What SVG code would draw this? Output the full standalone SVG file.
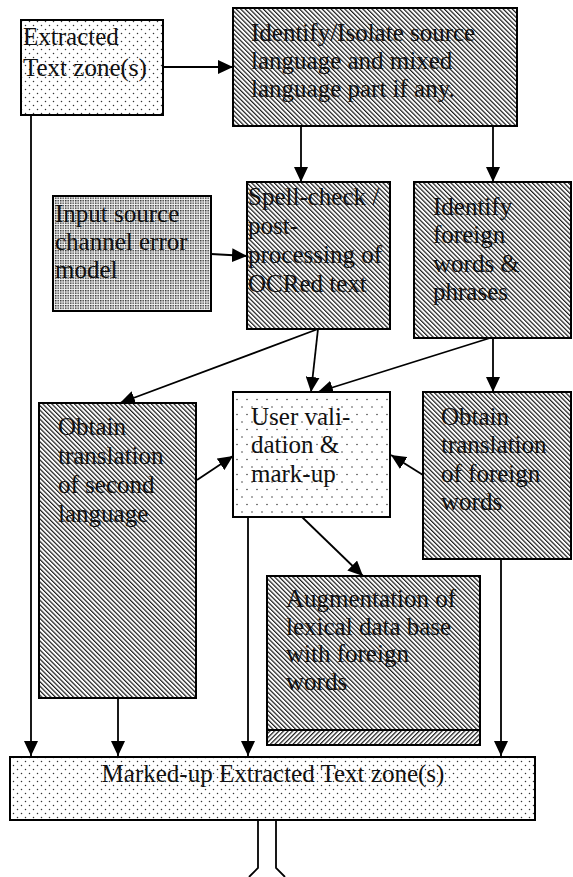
<svg xmlns="http://www.w3.org/2000/svg" width="573" height="877" viewBox="0 0 573 877">
<style>
  .box{stroke:#000;stroke-width:2}
  .t{font-family:"Liberation Serif","Times New Roman",serif;font-size:25px;fill:#111}
  .c{fill:none;stroke:#000;stroke-width:1.8}
</style>
<defs>
  <pattern id="hatch" width="3.2" height="3.2" patternUnits="userSpaceOnUse" patternTransform="rotate(-45)">
    <rect width="3.2" height="3.2" fill="#fff"/><rect width="1.2" height="3.2" fill="#1a1a1a"/>
  </pattern>
  <pattern id="hatch2" width="3.2" height="3.2" patternUnits="userSpaceOnUse" patternTransform="rotate(45)">
    <rect width="3.2" height="3.2" fill="#fff"/><rect width="1.2" height="3.2" fill="#1a1a1a"/>
  </pattern>
  <pattern id="dotsA" width="8" height="8" patternUnits="userSpaceOnUse">
    <rect width="8" height="8" fill="#fff"/><circle cx="1.5" cy="1.5" r="0.75" fill="#333"/><circle cx="5.5" cy="5.5" r="0.75" fill="#333"/>
  </pattern>
  <pattern id="dotsG" width="10" height="15" patternUnits="userSpaceOnUse">
    <rect width="10" height="15" fill="#fff"/><circle cx="2" cy="2" r="0.75" fill="#333"/><circle cx="7" cy="9.5" r="0.75" fill="#333"/>
  </pattern>
  <pattern id="dense" width="2.5" height="2.5" patternUnits="userSpaceOnUse">
    <rect width="2.5" height="2.5" fill="#f4f4f4"/><rect width="1.45" height="1.45" fill="#333"/>
  </pattern>
  <marker id="ah" markerUnits="userSpaceOnUse" markerWidth="16" markerHeight="14" refX="15" refY="7" orient="auto">
    <path d="M0,0 L15,7 L0,14 z" fill="#000"/>
  </marker>
</defs>

<g id="connectors">
  <line class="c" x1="163" y1="67" x2="233" y2="67" marker-end="url(#ah)"/>
  <line class="c" x1="31" y1="115" x2="31" y2="756" marker-end="url(#ah)"/>
  <line class="c" x1="301" y1="126" x2="301" y2="182" marker-end="url(#ah)"/>
  <line class="c" x1="493" y1="126" x2="493" y2="182" marker-end="url(#ah)"/>
  <line class="c" x1="211" y1="254" x2="247" y2="256" marker-end="url(#ah)"/>
  <line class="c" x1="318" y1="329" x2="120" y2="403" marker-end="url(#ah)"/>
  <line class="c" x1="318" y1="329" x2="311" y2="392" marker-end="url(#ah)"/>
  <line class="c" x1="490" y1="338" x2="318" y2="392" marker-end="url(#ah)"/>
  <line class="c" x1="493" y1="338" x2="493" y2="392" marker-end="url(#ah)"/>
  <line class="c" x1="197" y1="480" x2="233" y2="456" marker-end="url(#ah)"/>
  <line class="c" x1="423" y1="475" x2="391" y2="455" marker-end="url(#ah)"/>
  <line class="c" x1="302" y1="517" x2="363" y2="576" marker-end="url(#ah)"/>
  <line class="c" x1="118" y1="698" x2="118" y2="756" marker-end="url(#ah)"/>
  <line class="c" x1="248" y1="517" x2="248" y2="756" marker-end="url(#ah)"/>
  <line class="c" x1="501" y1="559" x2="501" y2="756" marker-end="url(#ah)"/>
  <path class="c" d="M258,820 L258,868 L249,877 M276,820 L276,868 L285,877"/>
</g>

<g id="nodeA">
  <rect class="box" x="21" y="20" width="142" height="95" fill="url(#dotsA)"/>
  <text class="t" x="23" y="45">Extracted</text>
  <text class="t" x="23" y="76">Text zone(s)</text>
</g>
<g id="nodeB">
  <rect class="box" x="233" y="8" width="284" height="118" fill="url(#hatch)"/>
  <text class="t" x="251" y="41">Identify/Isolate source</text>
  <text class="t" x="251" y="69">language and mixed</text>
  <text class="t" x="251" y="97">language part if any.</text>
</g>
<g id="nodeC">
  <rect class="box" x="53" y="196" width="158" height="115" fill="url(#dense)"/>
  <text class="t" x="55" y="222">Input source</text>
  <text class="t" x="55" y="250">channel error</text>
  <text class="t" x="55" y="278">model</text>
</g>
<g id="nodeD">
  <rect class="box" x="247" y="182" width="143" height="147" fill="url(#hatch)"/>
  <text class="t" x="248" y="205">Spell-check /</text>
  <text class="t" x="248" y="234">post-</text>
  <text class="t" x="248" y="263">processing of</text>
  <text class="t" x="248" y="292">OCRed text</text>
</g>
<g id="nodeE">
  <rect class="box" x="414" y="182" width="157" height="156" fill="url(#hatch)"/>
  <text class="t" x="433" y="215">Identify</text>
  <text class="t" x="433" y="243">foreign</text>
  <text class="t" x="433" y="272">words &amp;</text>
  <text class="t" x="433" y="300">phrases</text>
</g>
<g id="nodeF">
  <rect class="box" x="39" y="403" width="157" height="295" fill="url(#hatch)"/>
  <text class="t" x="58" y="435">Obtain</text>
  <text class="t" x="58" y="464">translation</text>
  <text class="t" x="58" y="493">of second</text>
  <text class="t" x="58" y="522">language</text>
</g>
<g id="nodeG">
  <rect class="box" x="233" y="392" width="157" height="125" fill="url(#dotsG)"/>
  <text class="t" x="251" y="425">User vali-</text>
  <text class="t" x="251" y="453">dation &amp;</text>
  <text class="t" x="251" y="482">mark-up</text>
</g>
<g id="nodeH">
  <rect class="box" x="423" y="392" width="148" height="167" fill="url(#hatch)"/>
  <text class="t" x="441" y="425">Obtain</text>
  <text class="t" x="441" y="453">translation</text>
  <text class="t" x="441" y="482">of foreign</text>
  <text class="t" x="441" y="510">words</text>
</g>
<g id="nodeI">
  <rect class="box" x="267" y="576" width="213" height="154" fill="url(#hatch)"/>
  <rect class="box" x="267" y="730" width="213" height="15" fill="url(#hatch2)"/>
  <text class="t" x="286" y="607">Augmentation of</text>
  <text class="t" x="286" y="635">lexical data base</text>
  <text class="t" x="286" y="662">with foreign</text>
  <text class="t" x="286" y="690">words</text>
</g>
<g id="nodeJ">
  <rect class="box" x="10" y="757" width="525" height="63" fill="url(#dotsA)"/>
  <text class="t" x="273" y="782" text-anchor="middle">Marked-up Extracted Text zone(s)</text>
</g>
</svg>
